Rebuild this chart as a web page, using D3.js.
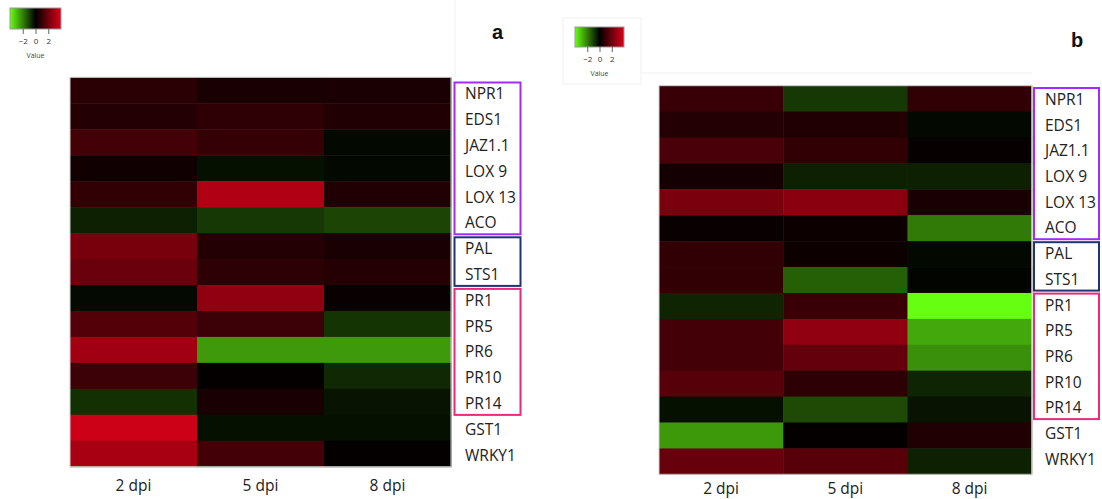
<!DOCTYPE html>
<html>
<head>
<meta charset="utf-8">
<script src="https://cdn.jsdelivr.net/npm/d3@7"></script>
<style>
  html, body { margin: 0; padding: 0; background: #fff; }
  svg { display: block; }
</style>
</head>
<body>
<svg id="chart" width="1102" height="499"></svg>
<script>
// Time points after inoculation (columns)
const timepoints = ["2 dpi", "5 dpi", "8 dpi"];

// Genes (rows, top to bottom)
const genes = ["NPR1", "EDS1", "JAZ1.1", "LOX 9", "LOX 13", "ACO", "PAL", "STS1",
               "PR1", "PR5", "PR6", "PR10", "PR14", "GST1", "WRKY1"];

// Gene groups outlined next to the heatmaps
const groupDefense = ["NPR1", "EDS1", "JAZ1.1", "LOX 9", "LOX 13", "ACO"];
const groupPhenyl = ["PAL", "STS1"];
const groupPR = ["PR1", "PR5", "PR6", "PR10", "PR14"];

// Log2 fold change, panel a (rows follow genes, columns follow timepoints)
const valuesA = [
  [0.76, 0.44, 0.47],
  [0.62, 0.84, 0.58],
  [1.24, 0.95, -0.13],
  [0.29, -0.25, -0.13],
  [0.87, 3.20, 0.58],
  [-0.50, -0.88, -1.07],
  [2.18, 0.62, 0.44],
  [1.93, 0.80, 0.65],
  [-0.16, 2.62, 0.15],
  [1.53, 1.09, -0.82],
  [2.90, -2.42, -2.42],
  [1.09, 0.07, -0.63],
  [-0.75, 0.44, -0.31],
  [3.70, -0.25, -0.25],
  [3.05, 1.24, 0.07]
];

// Log2 fold change, panel b
const valuesB = [
  [1.02, -0.88, 0.87],
  [0.62, 0.58, -0.13],
  [1.35, 0.87, 0.11],
  [0.36, -0.50, -0.50],
  [2.22, 2.51, 0.44],
  [0.15, 0.22, -1.91],
  [0.87, 0.22, -0.13],
  [0.87, -1.50, -0.06],
  [-0.56, 1.02, -4.00],
  [1.24, 2.62, -2.64],
  [1.24, 1.82, -2.26],
  [1.56, 0.80, -0.56],
  [-0.25, -1.16, -0.31],
  [-2.38, 0.07, 0.58],
  [1.85, 1.60, -0.50]
];

// Colour key range and ticks
const keyDomain = [-4, 4];
const keyTicks = [-2, 0, 2];

const color = d3.scaleLinear()
  .domain([keyDomain[0], 0, keyDomain[1]])
  .range(["rgb(102,255,17)", "rgb(0,0,0)", "rgb(220,0,24)"])
  .clamp(true);

const svg = d3.select("#chart");
const defs = svg.append("defs");

const font = "'Open Sans', 'Noto Sans', sans-serif";

function drawKey(g, id, x0, y0, w, h) {
  const grad = defs.append("linearGradient").attr("id", id)
    .attr("x1", "0%").attr("x2", "100%").attr("y1", "0%").attr("y2", "0%");
  d3.range(0, 1.0001, 0.05).forEach(t => {
    grad.append("stop").attr("offset", (t * 100) + "%")
      .attr("stop-color", color(keyDomain[0] + t * (keyDomain[1] - keyDomain[0])));
  });
  g.append("rect").attr("x", x0).attr("y", y0).attr("width", w).attr("height", h)
    .attr("fill", `url(#${id})`).attr("stroke", "#999").attr("stroke-width", 1);
  const kx = d3.scaleLinear().domain(keyDomain).range([x0, x0 + w]);
  const ax = g.append("g").attr("transform", `translate(0,${y0 + h})`)
    .call(d3.axisBottom(kx).tickValues(keyTicks).tickSize(5).tickPadding(4));
  ax.select(".domain").remove();
  ax.selectAll(".tick line").attr("stroke", "#666");
  ax.selectAll(".tick text").attr("font-family", font).attr("font-size", 8).attr("fill", "#333");
  g.append("text").attr("x", x0 + w / 2).attr("y", y0 + h + 29)
    .attr("text-anchor", "middle").attr("font-family", font).attr("font-size", 7)
    .attr("fill", "#444").text("Value");
}

function drawPanel(cfg) {
  const g = svg.append("g");
  const x = d3.scaleBand().domain(timepoints).range(cfg.xRange);
  const y = d3.scaleBand().domain(genes).range(cfg.yRange);
  const rows = genes.flatMap((gene, i) =>
    timepoints.map((tp, j) => ({ gene, tp, v: cfg.values[i][j] })));

  // heatmap cells
  g.append("g").selectAll("rect").data(rows).join("rect")
    .attr("x", d => x(d.tp))
    .attr("y", d => y(d.gene))
    .attr("width", x.bandwidth() + 0.5)
    .attr("height", y.bandwidth() + 0.5)
    .attr("fill", d => color(d.v));
  g.append("rect")
    .attr("x", cfg.xRange[0]).attr("y", cfg.yRange[0])
    .attr("width", cfg.xRange[1] - cfg.xRange[0])
    .attr("height", cfg.yRange[1] - cfg.yRange[0])
    .attr("fill", "none").attr("stroke", "#d0d0d0").attr("stroke-width", 1);

  // column labels
  const xa = g.append("g").attr("transform", `translate(0,${cfg.xLabelY})`)
    .call(d3.axisBottom(x).tickSize(0).tickPadding(0));
  xa.select(".domain").remove();
  xa.selectAll(".tick text").attr("font-family", font).attr("font-size", 15.5)
    .attr("fill", "#222").attr("dy", 0);

  // row labels
  const ly = d3.scaleBand().domain(genes).range(cfg.labelRange);
  g.append("g").selectAll("text").data(genes).join("text")
    .attr("x", cfg.labelX)
    .attr("y", d => ly(d) + ly.bandwidth() / 2)
    .attr("dy", "0.36em")
    .attr("font-family", font).attr("font-size", 15.5).attr("fill", "#222")
    .text(d => d);

  // group outlines
  const groups = [
    { members: groupDefense, stroke: "#a12bff" },
    { members: groupPhenyl, stroke: "#1f3570" },
    { members: groupPR, stroke: "#f2267a" }
  ];
  g.append("g").selectAll("rect").data(groups).join("rect")
    .attr("x", cfg.boxX[0])
    .attr("width", cfg.boxX[1] - cfg.boxX[0])
    .attr("y", d => ly(d.members[0]) + 1.5)
    .attr("height", d => ly(d.members[d.members.length - 1]) + ly.bandwidth() - ly(d.members[0]) - 3)
    .attr("fill", "none").attr("stroke", d => d.stroke).attr("stroke-width", 2);

  // panel letter
  g.append("text").attr("x", cfg.titleX).attr("y", cfg.titleY)
    .attr("text-anchor", "middle").attr("font-family", "'Liberation Sans', Arial, sans-serif")
    .attr("font-weight", "bold").attr("font-size", 20).attr("fill", "#111")
    .text(cfg.title);

  drawKey(g, "key-" + cfg.title, cfg.key[0], cfg.key[1], cfg.key[2], cfg.key[3]);
}

// faint frame lines around panel b and the key
svg.append("line").attr("x1", 455).attr("x2", 455).attr("y1", 0).attr("y2", 78)
  .attr("stroke", "#f0f0f0");
svg.append("rect").attr("x", 563).attr("y", 18).attr("width", 78).attr("height", 66)
  .attr("fill", "#fff").attr("stroke", "#efefef");
svg.append("line").attr("x1", 641).attr("x2", 1032).attr("y1", 73).attr("y2", 73)
  .attr("stroke", "#f0f0f0");

drawPanel({
  title: "a", values: valuesA,
  xRange: [70, 451], yRange: [77.3, 466.7],
  xLabelY: 491, labelX: 465, labelRange: [81, 468], boxX: [454.5, 520.5],
  titleX: 497.5, titleY: 39, key: [10, 8, 51, 21]
});

drawPanel({
  title: "b", values: valuesB,
  xRange: [659, 1031.7], yRange: [85.7, 474.3],
  xLabelY: 494, labelX: 1045, labelRange: [86.5, 472], boxX: [1034, 1099],
  titleX: 1077, titleY: 46.5, key: [575, 27, 49, 20]
});
</script>
</body>
</html>
